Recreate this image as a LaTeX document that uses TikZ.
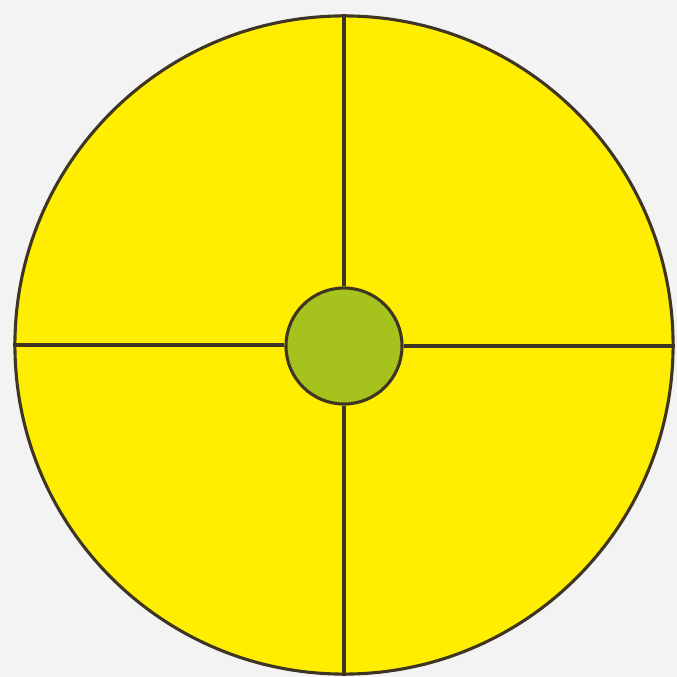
\documentclass[tikz,border=0pt]{standalone}
\usepackage{tikz}
\usetikzlibrary{backgrounds}
\definecolor{dialyellow}{HTML}{FFEE00}
\definecolor{hubgreen}{HTML}{A6C21C}
\definecolor{rimline}{HTML}{3E3522}
\definecolor{paperbg}{HTML}{F3F3F3}

\begin{document}
\begin{tikzpicture}[
  x=0.025cm, y=-0.025cm,
  dial/.style  = {circle, draw=rimline, line width=2.2pt, fill=dialyellow,
                  minimum size=16.45cm, inner sep=0pt},
  hub/.style   = {circle, draw=rimline, line width=2.2pt, fill=hubgreen,
                  minimum size=2.9cm, inner sep=0pt},
  spoke/.style = {draw=rimline, line width=2.2pt},
]

% --- frame: the page is the reference's 677 x 677 ------------------------------------------------
\fill[paperbg] (0,0) rectangle (677,677);
\useasboundingbox (0,0) rectangle (677,677);

% --- the disc and its hub -------------------------------------------------------------------------
\node[dial] (disc) at (344,345) {};
\node[hub]  (ctr)  at (344,346) {};

% --- four spokes, rim to hub ----------------------------------------------------------------------
\draw[spoke] (disc.north) -- (ctr.north);
\draw[spoke] (ctr.south)  -- (ctr.south |- disc.south);
\draw[spoke] (disc.west)  -- (disc.west -| ctr.west);
\draw[spoke] (ctr.east)   -- (ctr.east -| disc.east);

\end{tikzpicture}
\end{document}
